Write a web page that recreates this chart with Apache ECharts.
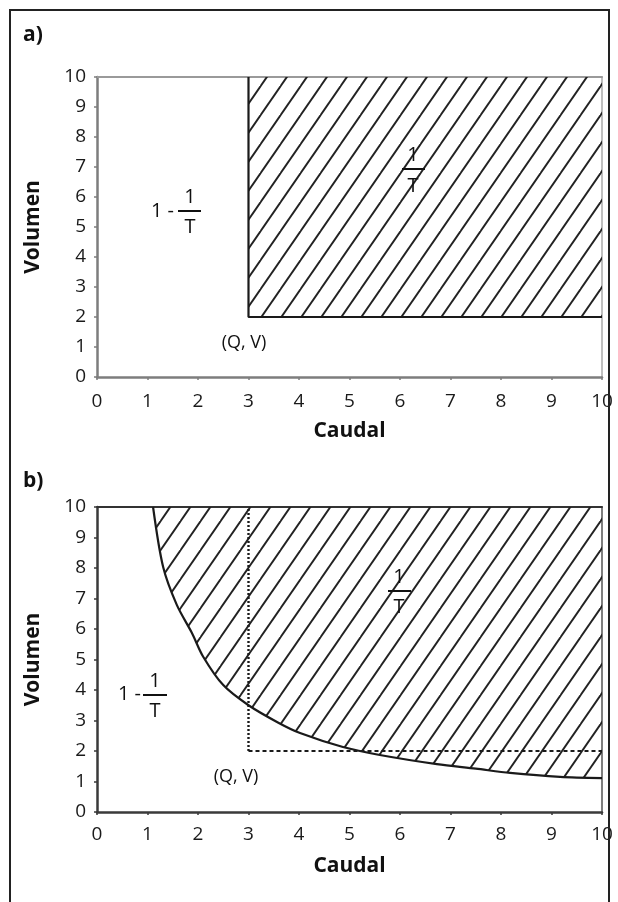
<!DOCTYPE html>
<html><head><meta charset="utf-8">
<script src="https://cdn.jsdelivr.net/npm/echarts@6/dist/echarts.min.js"></script>
<style>html,body{margin:0;padding:0;background:#fff}#c{width:618px;height:902px}</style>
</head><body><div id="c"></div>
<script>
// ---- data ----
const axisMin = 0;
const axisMax = 10;
// panel a: exceedance region Q >= 3 and V >= 2
const regionAQ = [3, 3, 10];
const regionAV = [10, 2, 2];
// panel b: boundary curve
const curveQ = [1.11, 1.31, 1.58, 1.88, 2.1, 2.5, 3.0, 3.6, 4.02, 4.87, 5.6, 6.73, 7.5, 8.18, 9.17, 10];
const curveV = [10, 8.03, 6.79, 5.87, 5.1, 4.16, 3.5, 2.92, 2.59, 2.13, 1.87, 1.57, 1.42, 1.28, 1.15, 1.11];
// panel b: reference point (Q, V) guides
const guideVertQ = [3, 3];
const guideVertV = [2, 10];
const guideHorzQ = [3, 10];
const guideHorzV = [2, 2];

const FONT = "'Open Sans', 'DejaVu Sans', sans-serif";

function hatchCanvas() {
  const W = 20, H = 29;
  const c = document.createElement('canvas');
  c.width = W; c.height = H;
  const g = c.getContext('2d');
  g.strokeStyle = '#222';
  g.lineWidth = 1.9;
  for (let k = 0; k <= 2; k++) {
    g.beginPath();
    g.moveTo(k * W + W, -H);
    g.lineTo(k * W - 2 * W, 2 * H);
    g.stroke();
  }
  return c;
}
const hatch = { image: hatchCanvas(), repeat: 'repeat' };

function pairs(xs, ys) { return xs.map((x, i) => [x, ys[i]]); }

function mainX(grid, col, margin) {
  return {
    type: 'value', gridIndex: grid, min: axisMin, max: axisMax, interval: 1, position: 'bottom',
    axisLine: { onZero: false, lineStyle: { color: col, width: 2.5 } },
    axisTick: { length: 3, lineStyle: { color: col, width: 1.5 } },
    splitLine: { show: false },
    axisLabel: { fontFamily: FONT, fontSize: 19, color: '#1a1a1a', margin: margin },
    name: 'Caudal', nameLocation: 'middle', nameGap: 44,
    nameTextStyle: { fontFamily: FONT, fontSize: 21, fontWeight: 'bold', color: '#111' }
  };
}
function topX(grid, col, w) {
  return {
    type: 'value', gridIndex: grid, min: axisMin, max: axisMax, position: 'top',
    axisLine: { onZero: false, lineStyle: { color: col, width: w } },
    axisTick: { show: false }, axisLabel: { show: false }, splitLine: { show: false }
  };
}
function mainY(grid, col) {
  return {
    type: 'value', gridIndex: grid, min: axisMin, max: axisMax, interval: 1, position: 'left',
    axisLine: { onZero: false, show: true, lineStyle: { color: col, width: 2.5 } },
    axisTick: { show: true, length: 3, lineStyle: { color: col, width: 1.5 } },
    splitLine: { show: false },
    axisLabel: { fontFamily: FONT, fontSize: 19, color: '#1a1a1a', margin: 11 },
    name: 'Volumen', nameLocation: 'middle', nameGap: 53, nameRotate: 90,
    nameTextStyle: { fontFamily: FONT, fontSize: 21, fontWeight: 'bold', color: '#111' }
  };
}
function rightY(grid, col, w) {
  return {
    type: 'value', gridIndex: grid, min: axisMin, max: axisMax, position: 'right',
    axisLine: { onZero: false, show: true, lineStyle: { color: col, width: w } },
    axisTick: { show: false }, axisLabel: { show: false }, splitLine: { show: false }
  };
}

function txt(x, y, text, opts) {
  return {
    type: 'text', x: x, y: y, z: 100,
    style: Object.assign({ text: text, font: '20px ' + FONT, fill: '#111', align: 'center', verticalAlign: 'middle' }, opts || {})
  };
}
function bar(x1, x2, y) {
  return { type: 'line', z: 100, shape: { x1: x1, y1: y, x2: x2, y2: y }, style: { stroke: '#111', lineWidth: 2 } };
}

const chart = echarts.init(document.getElementById('c'), null, { renderer: 'canvas' });
chart.setOption({
  animation: false,
  backgroundColor: '#fff',
  grid: [
    { left: 97, top: 77, width: 505, height: 300 },
    { left: 97, top: 507, width: 505, height: 305 }
  ],
  xAxis: [mainX(0, '#7d7d7d', 15), topX(0, '#9a9a9a', 2), mainX(1, '#3a3a3a', 13), topX(1, '#333', 2)],
  yAxis: [mainY(0, '#7d7d7d'), rightY(0, '#aaaaaa', 1.5), mainY(1, '#3a3a3a'), rightY(1, '#555', 1.5)],
  series: [
    {
      type: 'line', xAxisIndex: 0, yAxisIndex: 0, showSymbol: false,
      data: pairs(regionAQ, regionAV),
      lineStyle: { color: '#1a1a1a', width: 2.2 },
      areaStyle: { origin: 'end', color: hatch, opacity: 1 }
    },
    {
      type: 'line', xAxisIndex: 2, yAxisIndex: 2, showSymbol: false,
      data: pairs(curveQ, curveV), smooth: 0.3,
      lineStyle: { color: '#1a1a1a', width: 2.2 },
      areaStyle: { origin: 'end', color: hatch, opacity: 1 }
    },
    {
      type: 'line', xAxisIndex: 2, yAxisIndex: 2, showSymbol: false,
      data: pairs(guideVertQ, guideVertV),
      lineStyle: { color: '#1a1a1a', width: 2.4, type: [2, 2] }
    },
    {
      type: 'line', xAxisIndex: 2, yAxisIndex: 2, showSymbol: false,
      data: pairs(guideHorzQ, guideHorzV),
      lineStyle: { color: '#1a1a1a', width: 2.2, type: [4, 3] }
    }
  ],
  graphic: [
    { type: 'rect', z: 100, shape: { x: 10, y: 10, width: 599, height: 1000 }, style: { fill: 'none', stroke: '#222', lineWidth: 2 } },
    txt(23, 35, 'a)', { font: 'bold 21px ' + FONT, align: 'left' }),
    txt(23, 481, 'b)', { font: 'bold 21px ' + FONT, align: 'left' }),
    // panel a: 1 - 1/T
    txt(174, 211, '1 -', { align: 'right' }),
    txt(190, 197, '1'),
    bar(178, 201, 211),
    txt(190, 227, 'T'),
    // panel a: 1/T
    txt(413, 155, '1'),
    bar(402, 425, 169),
    txt(413, 186, 'T'),
    txt(244, 343, '(Q, V)', { font: '18px ' + FONT }),
    // panel b: 1 - 1/T
    txt(141, 694, '1 -', { align: 'right' }),
    txt(155, 681, '1'),
    bar(143, 167, 695),
    txt(155, 711, 'T'),
    // panel b: 1/T
    txt(399, 577, '1'),
    bar(388, 411, 591),
    txt(399, 607, 'T'),
    txt(236, 777, '(Q, V)', { font: '18px ' + FONT })
  ]
});
</script>
</body></html>
